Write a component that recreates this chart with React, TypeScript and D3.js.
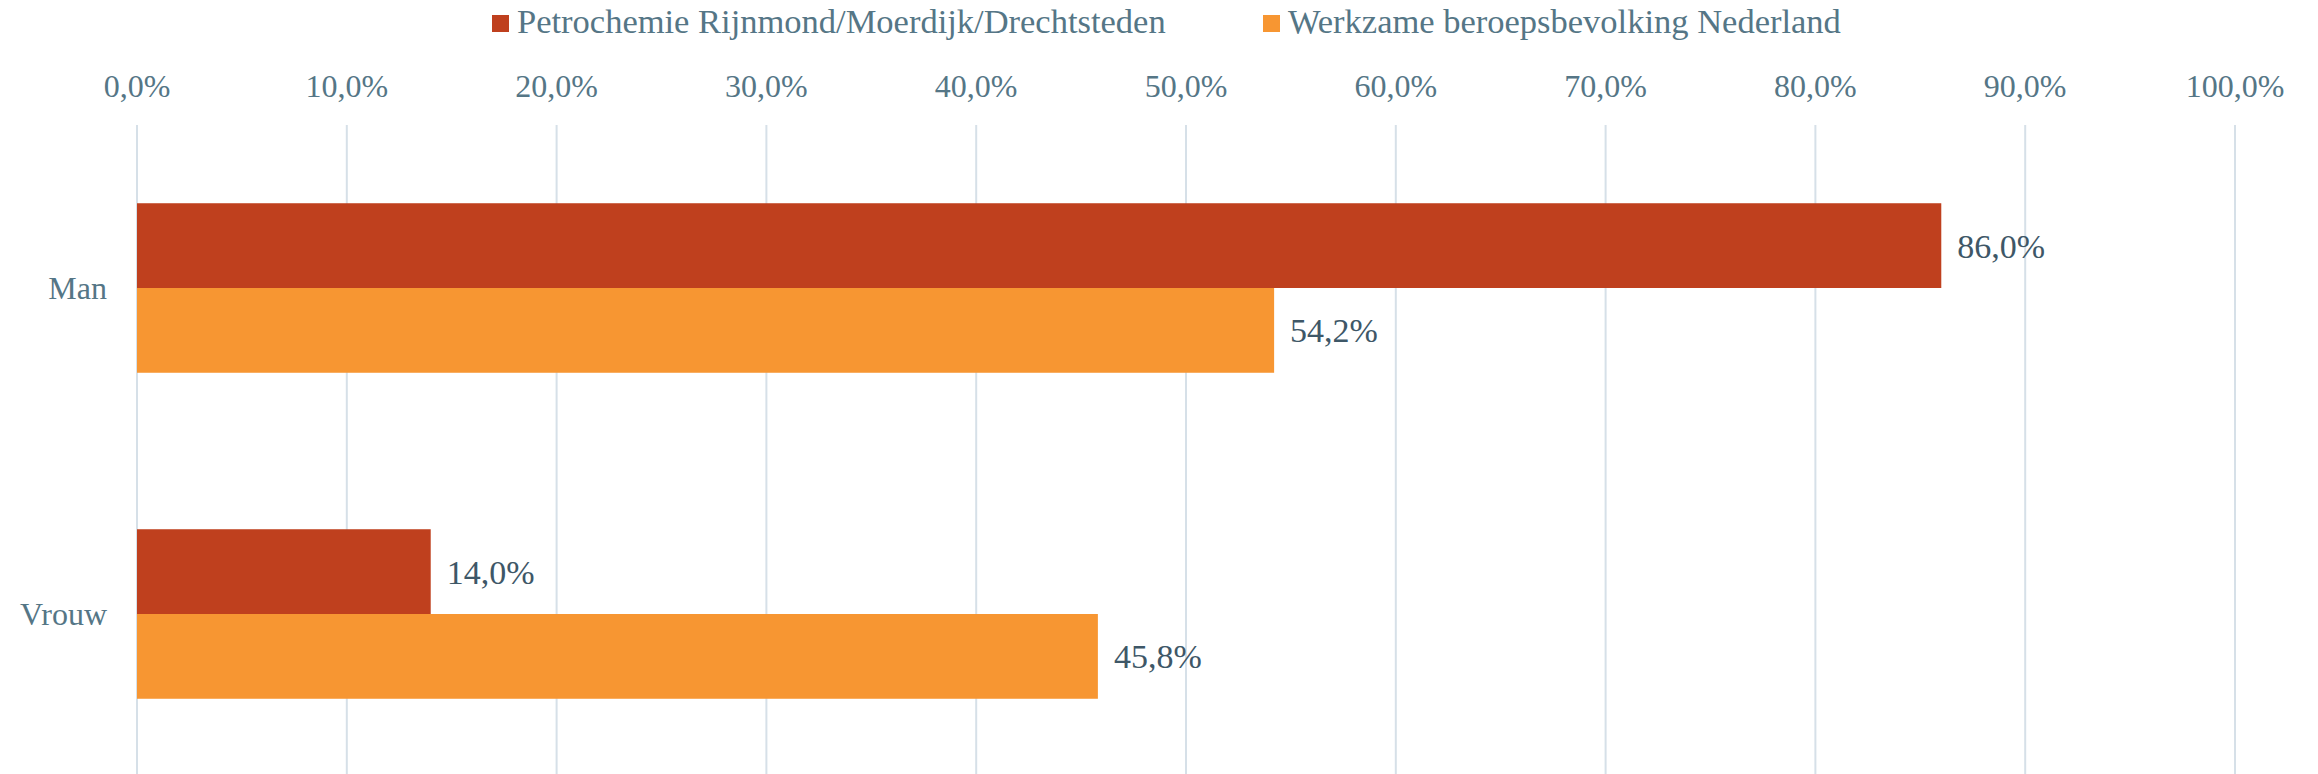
import React from "react";
import * as d3 from "d3";

const categories = ["Man", "Vrouw"];
const seriesNames = ["Petrochemie Rijnmond/Moerdijk/Drechtsteden", "Werkzame beroepsbevolking Nederland"];
const petrochemie = [0.86, 0.14];
const werkzame = [0.542, 0.458];
const tickValues = [0, 0.1, 0.2, 0.3, 0.4, 0.5, 0.6, 0.7, 0.8, 0.9, 1.0];
const colors = ["#BF401E", "#F79632"];

const W = 2318;
const H = 774;
const FONT = "'Liberation Serif', 'DejaVu Serif', serif";
const AXIS_COLOR = "#557686";
const LABEL_COLOR = "#3e5767";

const fmt = (v: number) => (v * 100).toFixed(1).replace(".", ",") + "%";

export default function App() {
  const x = d3.scaleLinear().domain([0, 1]).range([137, 2235]);
  const y0 = d3.scaleBand<string>().domain(categories).range([125, 777]).paddingInner(0.48).paddingOuter(0.24);
  const y1 = d3.scaleBand<string>().domain(seriesNames).range([0, y0.bandwidth()]);
  const values = [petrochemie, werkzame];

  const legendItems = [
    { name: seriesNames[0], color: colors[0], x: 492 },
    { name: seriesNames[1], color: colors[1], x: 1263 },
  ];

  return (
    <svg width={W} height={H} style={{ position: "absolute", left: 0, top: 0, background: "#fff" }} fontFamily={FONT}>
      {tickValues.map((t) => (
        <line key={"g" + t} x1={x(t)} x2={x(t)} y1={125} y2={H} stroke="#d6e0e8" strokeWidth={2} />
      ))}
      {tickValues.map((t) => (
        <text key={"t" + t} x={x(t)} y={97} textAnchor="middle" fontSize={32} fill={AXIS_COLOR}>
          {fmt(t)}
        </text>
      ))}
      {legendItems.map((l) => (
        <g key={l.name}>
          <rect x={l.x} y={15} width={17} height={17} fill={l.color} />
          <text x={l.x + 25} y={33} fontSize={34.5} fill={AXIS_COLOR}>
            {l.name}
          </text>
        </g>
      ))}
      {categories.map((c, ci) => (
        <g key={c}>
          <text x={107} y={(y0(c) as number) + y0.bandwidth() / 2 + 11} textAnchor="end" fontSize={32} fill={AXIS_COLOR}>
            {c}
          </text>
          {seriesNames.map((s, si) => {
            const v = values[si][ci];
            const yy = (y0(c) as number) + (y1(s) as number);
            return (
              <g key={s}>
                <rect x={x(0)} y={yy} width={x(v) - x(0)} height={y1.bandwidth()} fill={colors[si]} />
                <text x={x(v) + 16} y={yy + y1.bandwidth() / 2 + 12} fontSize={34} fill={LABEL_COLOR}>
                  {fmt(v)}
                </text>
              </g>
            );
          })}
        </g>
      ))}
    </svg>
  );
}
